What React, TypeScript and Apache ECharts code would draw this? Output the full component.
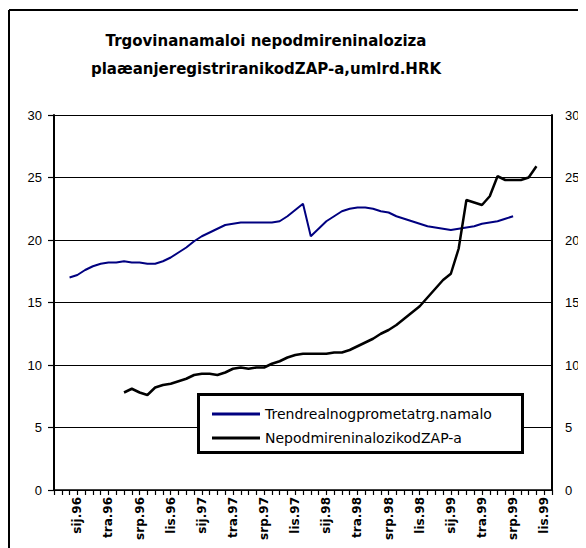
import React, { useEffect, useRef } from "react";
import * as echarts from "echarts";

const TITLE_LINES = ["Trgovinanamaloi nepodmireninaloziza", "plaæanjeregistriranikodZAP-a,umlrd.HRK"];
const SERIES_NAMES = ["Trendrealnogprometatrg.namalo", "NepodmireninalozikodZAP-a"];
const SERIES_COLORS = ["#000080", "#000000"];
const TICK_LABELS = [
  "sij.96", "tra.96", "srp.96", "lis.96",
  "sij.97", "tra.97", "srp.97", "lis.97",
  "sij.98", "tra.98", "srp.98", "lis.98",
  "sij.99", "tra.99", "srp.99", "lis.99",
];
const CATEGORY_COUNT = 65;
const FIRST_LABEL_INDEX = 3;
const LABEL_STEP = 4;

const TREND_START = 2;
const TREND_VALUES = [
  17.0, 17.2, 17.6, 17.9, 18.1, 18.2, 18.2, 18.3, 18.2, 18.2, 18.1, 18.1,
  18.3, 18.6, 19.0, 19.4, 19.9, 20.3, 20.6, 20.9, 21.2, 21.3, 21.4, 21.4,
  21.4, 21.4, 21.4, 21.5, 21.9, 22.4, 22.9, 20.3, 20.9, 21.5, 21.9, 22.3,
  22.5, 22.6, 22.6, 22.5, 22.3, 22.2, 21.9, 21.7, 21.5, 21.3, 21.1, 21.0,
  20.9, 20.8, 20.9, 21.0, 21.1, 21.3, 21.4, 21.5, 21.7, 21.9,
];

const ZAP_START = 9;
const ZAP_VALUES = [
  7.8, 8.1, 7.8, 7.6, 8.2, 8.4, 8.5, 8.7, 8.9, 9.2, 9.3, 9.3, 9.2, 9.4,
  9.7, 9.8, 9.7, 9.8, 9.8, 10.1, 10.3, 10.6, 10.8, 10.9, 10.9, 10.9, 10.9,
  11.0, 11.0, 11.2, 11.5, 11.8, 12.1, 12.5, 12.8, 13.2, 13.7, 14.2, 14.7,
  15.4, 16.1, 16.8, 17.3, 19.3, 23.2, 23.0, 22.8, 23.5, 25.1, 24.8, 24.8,
  24.8, 25.0, 25.9,
];

const Y_MIN = 0;
const Y_MAX = 30;
const Y_STEP = 5;

function buildCategories(): string[] {
  const cats: string[] = [];
  for (let i = 0; i < CATEGORY_COUNT; i++) {
    const k = i - FIRST_LABEL_INDEX;
    if (k >= 0 && k % LABEL_STEP === 0 && TICK_LABELS[k / LABEL_STEP]) {
      cats.push(TICK_LABELS[k / LABEL_STEP]);
    } else {
      cats.push("m" + i);
    }
  }
  return cats;
}

function padSeries(start: number, values: number[]): (number | null)[] {
  const out: (number | null)[] = [];
  for (let i = 0; i < CATEGORY_COUNT; i++) {
    const j = i - start;
    out.push(j >= 0 && j < values.length ? values[j] : null);
  }
  return out;
}

export default function App() {
  const ref = useRef<HTMLDivElement>(null);
  useEffect(() => {
    if (!ref.current) return;
    const chart = echarts.init(ref.current, undefined, { renderer: "svg" });
    const categories = buildCategories();
    const axisFont = { fontFamily: "Liberation Sans, Arial, sans-serif", fontSize: 13, color: "#000" };
    chart.setOption({
      animation: false,
      backgroundColor: "#fff",
      title: {
        text: TITLE_LINES.join("\n"),
        left: 258,
        top: 19,
        textAlign: "center",
        padding: 0,
        textStyle: {
          fontFamily: "DejaVu Sans, sans-serif",
          fontWeight: "bold",
          fontSize: 15,
          lineHeight: 28,
          color: "#000",
        },
      },
      graphic: [
        { type: "line", shape: { x1: 1, y1: 2, x2: 1, y2: 540 }, style: { stroke: "#000", lineWidth: 2 }, z: 100 },
        { type: "line", shape: { x1: 1, y1: 2, x2: 578, y2: 2 }, style: { stroke: "#000", lineWidth: 2 }, z: 100 },
        {
          type: "rect",
          shape: { x: 190.5, y: 386.5, width: 324, height: 58 },
          style: { fill: "#fff", stroke: "#000", lineWidth: 3 },
          z: 10,
        },
      ],
      legend: {
        left: 204,
        top: 398,
        orient: "vertical",
        itemWidth: 48,
        itemHeight: 3,
        itemGap: 8,
        padding: 0,
        z: 20,
        textStyle: { fontFamily: "DejaVu Sans, sans-serif", fontSize: 14, lineHeight: 16, color: "#000" },
        data: SERIES_NAMES.map((n, i) => ({
          name: n,
          icon: "rect",
          itemStyle: { color: SERIES_COLORS[i] },
        })),
      },
      grid: { left: 46, right: 34, top: 107, bottom: 58, containLabel: false },
      xAxis: {
        type: "category",
        data: categories,
        boundaryGap: false,
        axisLine: { lineStyle: { color: "#000", width: 1.5 } },
        axisTick: { show: true, interval: 0, length: 5, lineStyle: { color: "#000", width: 1.2 } },
        axisLabel: {
          interval: (i: number) => i >= FIRST_LABEL_INDEX && (i - FIRST_LABEL_INDEX) % LABEL_STEP === 0,
          rotate: 90,
          margin: 7,
          fontFamily: "DejaVu Sans, sans-serif",
          fontWeight: "bold",
          fontSize: 12,
          color: "#000",
        },
        splitLine: { show: false },
      },
      yAxis: [
        {
          type: "value",
          min: Y_MIN,
          max: Y_MAX,
          interval: Y_STEP,
          position: "left",
          axisLine: { show: true, lineStyle: { color: "#000", width: 2 } },
          axisTick: { show: true, length: 6, lineStyle: { color: "#000", width: 1.2 } },
          axisLabel: { ...axisFont, margin: 12 },
          splitLine: { show: true, lineStyle: { color: "#000", width: 1 } },
        },
        {
          type: "value",
          min: Y_MIN,
          max: Y_MAX,
          interval: Y_STEP,
          position: "right",
          axisLine: { show: true, lineStyle: { color: "#000", width: 2 } },
          axisTick: { show: false },
          axisLabel: { ...axisFont, margin: 13 },
          splitLine: { show: false },
        },
      ],
      series: [
        {
          name: SERIES_NAMES[0],
          type: "line",
          data: padSeries(TREND_START, TREND_VALUES),
          symbol: "none",
          connectNulls: false,
          lineStyle: { color: SERIES_COLORS[0], width: 2 },
          itemStyle: { color: SERIES_COLORS[0] },
          z: 3,
        },
        {
          name: SERIES_NAMES[1],
          type: "line",
          data: padSeries(ZAP_START, ZAP_VALUES),
          symbol: "none",
          connectNulls: false,
          lineStyle: { color: SERIES_COLORS[1], width: 2.5 },
          itemStyle: { color: SERIES_COLORS[1] },
          z: 4,
        },
      ],
    });
    return () => chart.dispose();
  }, []);
  return <div ref={ref} style={{ width: 578, height: 540 }} />;
}
